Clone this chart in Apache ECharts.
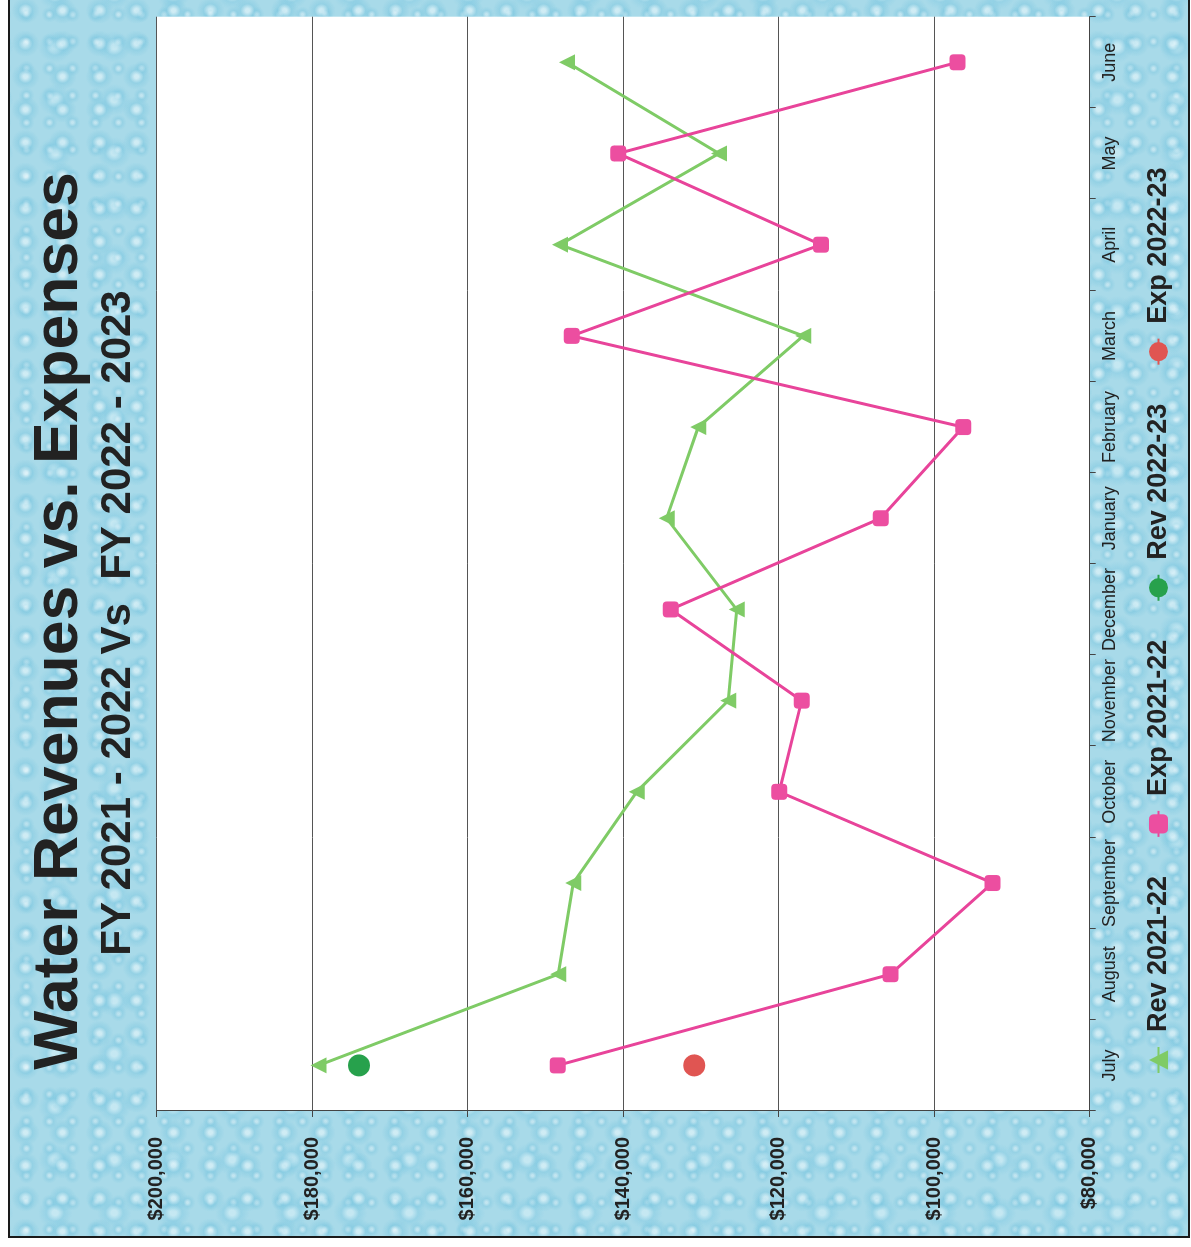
<!DOCTYPE html>
<html>
<head>
<meta charset="utf-8">
<title>Water Revenues vs. Expenses</title>
<script src="https://cdn.jsdelivr.net/npm/echarts@6/dist/echarts.min.js"></script>
<style>
  html, body { margin: 0; padding: 0; overflow: hidden; background: #fff; }
  #frame {
    position: absolute; left: 8px; top: -2px; width: 1178px; height: 1238px;
    border-left: 2px solid #1a1a1a; border-bottom: 2px solid #1a1a1a; border-right: 2px solid #1a1a1a;
    background-color: #a8dae9;
    background-image:
      radial-gradient(ellipse at 42% 38%, rgba(245,253,255,0.5) 0 2px, rgba(118,196,222,0.4) 7px, rgba(118,196,222,0) 14px),
      radial-gradient(ellipse at 58% 60%, rgba(240,252,255,0.4) 0 3px, rgba(125,200,226,0.38) 9px, rgba(125,200,226,0) 17px),
      radial-gradient(circle at 50% 50%, rgba(255,255,255,0.3) 0 1px, rgba(110,192,220,0.3) 4px, rgba(110,192,220,0) 8px);
    background-size: 37px 33px, 59px 53px, 23px 27px;
    background-position: 0 0, 11px 17px, 5px 3px;
  }
  /* the chart is drawn upright and turned a quarter to the left */
  #chart {
    position: absolute; left: 0; top: 0; width: 1247px; height: 1191px;
    transform-origin: 0 0; transform: translate(0, 1247px) rotate(-90deg);
  }
</style>
</head>
<body>
<div id="frame"></div>
<div id="chart"></div>
<script>
const months = ['July', 'August', 'September', 'October', 'November', 'December',
  'January', 'February', 'March', 'April', 'May', 'June']
const rev2122 = [179200, 148350, 146420, 138270, 126490, 125410, 134410, 130350, 116850, 148140, 127690, 147230]
const exp2122 = [148430, 105610, 92490, 119930, 117050, 133900, 106890, 96270, 146630, 114570, 140640, 96990]
const rev2223 = [173980]
const exp2223 = [130860]

const FONT = '"Liberation Sans", Arial, sans-serif'

const chart = echarts.init(document.getElementById('chart'), null, { width: 1247, height: 1191, renderer: 'canvas' })

function money (v) {
  return '$' + v.toLocaleString('en-US')
}

chart.setOption({
  backgroundColor: 'transparent',
  animation: false,
  textStyle: { fontFamily: FONT },
  graphic: [
    {
      type: 'text', x: 626, y: 60,
      style: {
        text: 'Water Revenues vs. Expenses', fontFamily: FONT, fontSize: 62.5, fontWeight: 'bold',
        fill: '#222', align: 'center', verticalAlign: 'middle'
      }
    },
    {
      type: 'text', x: 624, y: 118,
      style: {
        text: 'FY 2021 - 2022 Vs  FY 2022 - 2023', fontFamily: FONT, fontSize: 42, fontWeight: 'bold',
        fill: '#222', align: 'center', verticalAlign: 'middle'
      }
    }
  ],
  legend: {
    left: 168,
    top: 1140,
    itemWidth: 26,
    itemHeight: 24,
    itemGap: 38,
    textStyle: { fontFamily: FONT, fontSize: 27, fontWeight: 'bold', color: '#222', padding: [0, 0, 0, 10] },
    data: ['Rev 2021-22', 'Exp 2021-22', 'Rev 2022-23', 'Exp 2022-23']
  },
  grid: {
    left: 136,
    right: 16.7,
    top: 156.7,
    bottom: 101.3,
    show: true,
    backgroundColor: '#fff',
    borderWidth: 0
  },
  xAxis: {
    type: 'category',
    data: months,
    boundaryGap: true,
    axisLine: { lineStyle: { color: '#444', width: 1 } },
    axisTick: { show: true, interval: 0, length: 6, lineStyle: { color: '#444' } },
    axisLabel: { interval: 0, fontFamily: FONT, fontSize: 18, color: '#222', margin: 11 }
  },
  yAxis: {
    type: 'value',
    min: 80000,
    max: 200000,
    interval: 20000,
    axisLine: { show: true, lineStyle: { color: '#444', width: 1 } },
    axisTick: { show: true, length: 6, lineStyle: { color: '#444' } },
    splitLine: { show: true, lineStyle: { color: '#555', width: 1 } },
    axisLabel: { fontFamily: FONT, fontSize: 20, fontWeight: 'bold', color: '#222', margin: 26, formatter: money }
  },
  series: [
    {
      name: 'Rev 2021-22',
      type: 'line',
      data: rev2122,
      symbol: 'triangle',
      symbolSize: 16,
      itemStyle: { color: '#7fcb66' },
      lineStyle: { color: '#7fcb66', width: 3 },
      z: 3
    },
    {
      name: 'Exp 2021-22',
      type: 'line',
      data: exp2122,
      symbol: 'roundRect',
      symbolSize: 16,
      itemStyle: { color: '#ec4ea0' },
      lineStyle: { color: '#e8449a', width: 3 },
      z: 4
    },
    {
      name: 'Rev 2022-23',
      type: 'line',
      data: rev2223,
      symbol: 'circle',
      symbolSize: 22,
      itemStyle: { color: '#27a14c' },
      lineStyle: { color: '#27a14c', width: 3 }
    },
    {
      name: 'Exp 2022-23',
      type: 'line',
      data: exp2223,
      symbol: 'circle',
      symbolSize: 22,
      itemStyle: { color: '#e05552' },
      lineStyle: { color: '#e05552', width: 3 }
    }
  ]
})
</script>
</body>
</html>
